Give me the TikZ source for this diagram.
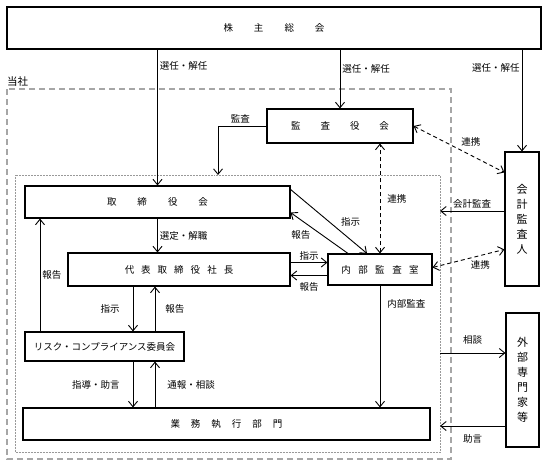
\documentclass[tikz,border=0pt]{standalone}
\usepackage{fontspec}
\setmainfont{Noto Sans CJK JP}
\usetikzlibrary{arrows.meta}
\tikzset{
  box/.style={draw, line width=1.1pt, inner sep=0pt, font=\fontsize{9.5}{10}\selectfont},
  vbox/.style={box, align=center, font=\fontsize{11}{15}\selectfont},
  lbl/.style={font=\fontsize{9.5}{10}\selectfont, inner sep=2pt},
  arr/.style={line width=0.9pt, -{Straight Barb[length=5.5pt,width=9pt]}},
  link/.style={line width=0.9pt, dash pattern=on 4pt off 3pt,
    {Straight Barb[length=5.5pt,width=9pt]}-{Straight Barb[length=5.5pt,width=9pt]}},
  frame/.style={gray!70, line width=1.1pt, dash pattern=on 6pt off 4pt},
  innerframe/.style={gray!80, line width=0.5pt, densely dotted},
}

\begin{document}
\begin{tikzpicture}[x=1pt, y=-1pt]
  \useasboundingbox (0,0) rectangle (548,466);
  % frames
  \draw[frame] (7,89) rectangle (451,459);
  \draw[innerframe] (15,175) rectangle (440,452);
  \node[lbl, anchor=south west, font=\fontsize{10.5}{11}\selectfont] (tosha) at (5,89) {当社};

  % boxes
  \node[box, minimum width=534, minimum height=42] (kabu) at (274,28)
    {株\hspace{21pt}主\hspace{21pt}総\hspace{21pt}会};
  \node[box, minimum width=146, minimum height=34] (kansa) at (340,126)
    {監\hspace{20pt}査\hspace{20pt}役\hspace{20pt}会};
  \node[box, minimum width=265, minimum height=32] (tori) at (157.5,202)
    {取\hspace{21pt}締\hspace{21pt}役\hspace{21pt}会};
  \node[box, minimum width=222, minimum height=33] (daihyo) at (179,269.5)
    {代\hspace{7pt}表\hspace{7pt}取\hspace{7pt}締\hspace{7pt}役\hspace{7pt}社\hspace{7pt}長};
  \node[box, minimum width=104, minimum height=31] (naibu) at (380,269.5)
    {内\hspace{7.5pt}部\hspace{7.5pt}監\hspace{7.5pt}査\hspace{7.5pt}室};
  \node[box, minimum width=159, minimum height=29] (risk) at (104.5,346.5)
    {リスク・コンプライアンス委員会};
  \node[box, minimum width=407, minimum height=32] (gyomu) at (226.5,424)
    {業\hspace{11pt}務\hspace{11pt}執\hspace{11pt}行\hspace{11pt}部\hspace{11pt}門};
  \node[vbox, minimum width=34, minimum height=134] (kaikei) at (522,219)
    {会\\計\\監\\査\\人};
  \node[vbox, minimum width=33, minimum height=134] (gaibu) at (522.5,380)
    {外\\部\\専\\門\\家\\等};

  % columns and free ends
  \coordinate (colR) at (40,0);
  \coordinate (colA) at (133,0);
  \coordinate (colB) at (155,0);
  \coordinate (kansaend) at (218,175);
  \coordinate (kaend) at (440,211);
  \coordinate (soudan) at (440,353);
  \coordinate (jogen) at (440,426);

  % shareholders
  \draw[arr] (kabu.south -| tori.north) -- (tori.north)
    node[lbl, right, pos=0.12] {選任・解任};
  \draw[arr] (kabu.south -| kansa.north) -- (kansa.north)
    node[lbl, right, pos=0.32] {選任・解任};
  \draw[arr] (kabu.south -| kaikei.north) -- (kaikei.north)
    node[lbl, left, pos=0.18] {選任・解任};

  % audit board
  \draw[arr] (kansa.west) -| (kansaend) node[lbl, above, pos=0.27] {監査};
  \draw[link] (naibu.north) -- (naibu.north |- kansa.south)
    node[lbl, midway, right=5pt] {連携};
  \draw[link] (kansa.east) -- ([yshift=-21pt]kaikei.north west)
    node[lbl, midway, above right] {連携};

  % board of directors
  \draw[arr] (tori.south) -- (tori.south |- daihyo.north)
    node[lbl, midway, right] {選定・解職};
  \draw[arr] (colR |- risk.north) -- (colR |- tori.south)
    node[lbl, midway, right] {報告};
  \draw[arr] ([yshift=-4pt]tori.north east) -- ([xshift=-13pt]naibu.north)
    node[lbl, pos=0.55, xshift=18pt, yshift=3pt] {指示};
  \draw[arr] ([xshift=-32pt]naibu.north) -- ([yshift=6pt]tori.south east)
    node[lbl, pos=0.7, xshift=-7pt, yshift=-10pt] {報告};

  % president
  \draw[arr] ([yshift=7pt]daihyo.east) -- ([yshift=7pt]naibu.west)
    node[lbl, midway, above] {指示};
  \draw[arr] ([yshift=-6pt]naibu.west) -- ([yshift=-6pt]daihyo.east)
    node[lbl, midway, below=5pt] {報告};
  \draw[arr] (colA |- daihyo.south) -- (colA |- risk.north)
    node[lbl, midway, left=11pt] {指示};
  \draw[arr] (colB |- risk.north) -- (colB |- daihyo.south)
    node[lbl, midway, right=8pt] {報告};

  % risk committee
  \draw[arr] (colA |- risk.south) -- (colA |- gyomu.north)
    node[lbl, midway, left=11pt] {指導・助言};
  \draw[arr] (colB |- gyomu.north) -- (colB |- risk.south)
    node[lbl, midway, right=10pt] {通報・相談};

  % internal audit
  \draw[arr] (naibu.south) -- (naibu.south |- gyomu.north)
    node[lbl, pos=0.15, right=5pt] {内部監査};
  \draw[link] ([yshift=2pt]naibu.east) -- ([yshift=-98pt]kaikei.north west)
    node[lbl, midway, below right] {連携};

  % outside
  \draw[arr] (kaend -| kaikei.west) -- (kaend)
    node[lbl, midway, above] {会計監査};
  \draw[arr] (soudan) -- (soudan -| gaibu.west)
    node[lbl, midway, above=6pt] {相談};
  \draw[arr] (jogen -| gaibu.west) -- (jogen)
    node[lbl, midway, below=6pt] {助言};
\end{tikzpicture}
\end{document}
